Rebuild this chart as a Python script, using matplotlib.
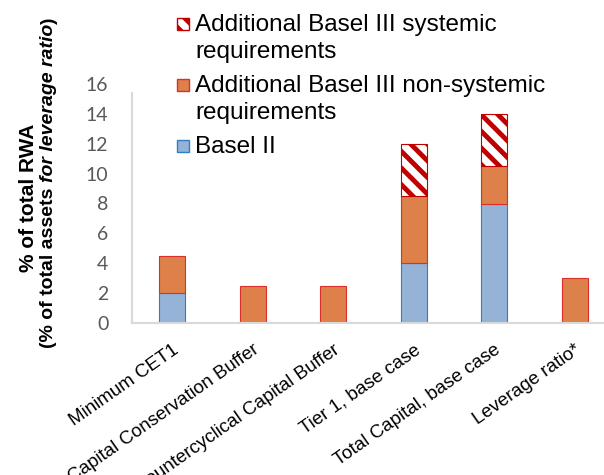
import numpy as np
import matplotlib.pyplot as plt
from matplotlib.patches import Rectangle

plt.rcParams['font.family'] = 'Liberation Sans'
plt.rcParams['hatch.linewidth'] = 3.5

# Data
categories = ['Minimum CET1', 'Capital Conservation Buffer', 'Countercyclical Capital Buffer',
              'Tier 1, base case', 'Total Capital, base case', 'Leverage ratio*']
basel2 = np.array([2, 0, 0, 4, 8, 0])
nonsystemic = np.array([2.5, 2.5, 2.5, 4.5, 2.5, 3])
systemic = np.array([0, 0, 0, 3.5, 3.5, 0])
yticks = [0, 2, 4, 6, 8, 10, 12, 14, 16]
legend_lines = [['Additional Basel III systemic', 'requirements'],
                ['Additional Basel III non-systemic', 'requirements'],
                ['Basel II']]

blue, blue_edge = '#95B3D7', '#2F7FC8'
orange, red_edge = '#DE8049', '#D9302C'
hatch_red = '#C00000'

W, H = 604, 475
fig = plt.figure(figsize=(W / 100, H / 100), dpi=100)
ax = fig.add_axes([132 / W, 1 - 323 / H, 6 * 80.5 / W, (323 - 84) / H])

x = np.arange(len(categories))
bw = 0.32
m = basel2 > 0
ax.bar(x[m], basel2[m], bw, color=blue, edgecolor=blue_edge, linewidth=0.8)
m = nonsystemic > 0
ax.bar(x[m], nonsystemic[m], bw, bottom=basel2[m], color=orange, edgecolor=red_edge, linewidth=0.8)
m = systemic > 0
ax.bar(x[m], systemic[m], bw, bottom=(basel2 + nonsystemic)[m], color='white',
       edgecolor=hatch_red, hatch='\\\\', linewidth=0.8)

ax.set_xlim(-0.5, len(categories) - 0.5)
ax.set_ylim(0, 16)
ax.set_yticks(yticks)
ax.set_yticklabels([str(v) for v in yticks], family='Lato', fontsize=14, color='#595959')
ax.tick_params(axis='y', length=0, pad=17)
ax.set_xticks(x)
ax.set_xticklabels(categories, rotation=35, ha='right', rotation_mode='anchor', fontsize=13.5)
ax.tick_params(axis='x', length=0, pad=13)

for s in ['top', 'right']:
    ax.spines[s].set_visible(False)
for s in ['bottom', 'left']:
    ax.spines[s].set_color('#D9D9D9')
    ax.spines[s].set_linewidth(1.5)
ax.spines['left'].set_bounds(0, 15.4)

# Legend (drawn by hand so the box sits beside the first line)
def fx(px):
    return px / W

def fy(py):
    return 1 - py / H

styles = [dict(facecolor='white', edgecolor=hatch_red, hatch='\\\\'),
          dict(facecolor=orange, edgecolor=red_edge),
          dict(facecolor=blue, edgecolor=blue_edge)]
tops = [18, 79, 140]
for lines, st, top in zip(legend_lines, styles, tops):
    fig.add_artist(Rectangle((fx(177), fy(top + 12)), 12 / W, 12 / H, transform=fig.transFigure,
                             linewidth=1, **st))
    for i, line in enumerate(lines):
        fig.text(fx(195), fy(top + 13 + 27 * i), line, fontsize=17.5, va='baseline')

# Y label: two lines, part of second line in italics
r = fig.canvas.get_renderer()
fig.text(fx(29), fy(198), '% of total RWA', rotation=90, fontsize=15, fontweight='bold',
         ha='center', va='center')
pieces = [('(% of total assets ', 'normal'), ('for leverage ratio', 'italic'), (')', 'normal')]
texts = [fig.text(0, 0, s, rotation=90, fontsize=14, fontweight='bold', style=st,
                  ha='center', va='bottom') for s, st in pieces]
heights = [t.get_window_extent(r).height for t in texts]
y0 = (H - 183) - sum(heights) / 2
for t, h in zip(texts, heights):
    t.set_position((fx(49), y0 / H))
    y0 += h

fig.savefig('out.png', dpi=100)
